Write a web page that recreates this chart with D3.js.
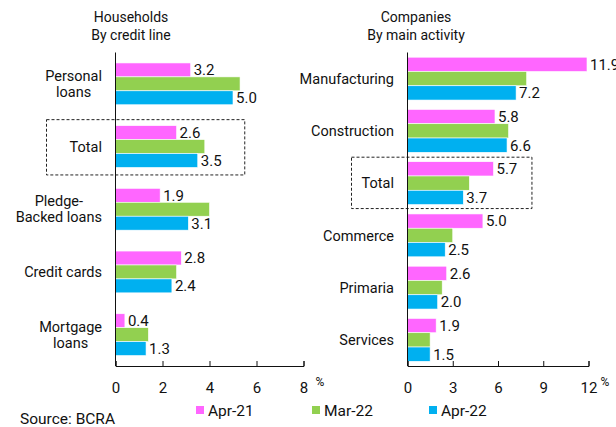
<!DOCTYPE html>
<html>
<head>
<meta charset="utf-8">
<script src="https://cdn.jsdelivr.net/npm/d3@7"></script>
<style>
  html, body { margin: 0; padding: 0; background: #fff; }
  svg { display: block; font-family: Roboto, "Noto Sans", sans-serif; }
</style>
</head>
<body>
<svg id="chart" width="616" height="427"></svg>
<script>
// ---- Data ----
const seriesNames = ["Apr-21", "Mar-22", "Apr-22"];
const seriesColors = ["#FF66FF", "#92D050", "#00B0F0"];

const hhCategories = ["Personal\nloans", "Total", "Pledge-\nBacked loans", "Credit cards", "Mortgage\nloans"];
const hhApr21 = [3.2, 2.6, 1.9, 2.8, 0.4];
const hhMar22 = [5.3, 3.8, 4.0, 2.6, 1.4];
const hhApr22 = [5.0, 3.5, 3.1, 2.4, 1.3];
const hhTicks = [0, 2, 4, 6, 8];

const coCategories = ["Manufacturing", "Construction", "Total", "Commerce", "Primaria", "Services"];
const coApr21 = [11.9, 5.8, 5.7, 5.0, 2.6, 1.9];
const coMar22 = [7.9, 6.7, 4.1, 3.0, 2.3, 1.5];
const coApr22 = [7.2, 6.6, 3.7, 2.5, 2.0, 1.5];
const coTicks = [0, 3, 6, 9, 12];

const labelledSeries = [0, 2]; // value labels shown for Apr-21 and Apr-22

const svg = d3.select("#chart");

function panel(opts) {
  const { categories, series, ticks, xRange, yRange, padIn, padOut, labelX, title, titleX, totalBox } = opts;
  const x = d3.scaleLinear().domain([ticks[0], ticks[ticks.length - 1]]).range(xRange);
  const y = d3.scaleBand().domain(categories).range(yRange).paddingInner(padIn).paddingOuter(padOut);
  const ys = d3.scaleBand().domain(d3.range(series.length)).range([0, y.bandwidth()]);

  const g = svg.append("g");

  // title
  const t = g.append("text").attr("x", titleX).attr("text-anchor", "middle")
    .attr("font-size", 14).attr("fill", "#111");
  t.append("tspan").attr("x", titleX).attr("y", 22).text(title[0]);
  t.append("tspan").attr("x", titleX).attr("y", 40).text(title[1]);

  // total dashed box
  const tb = categories.indexOf("Total");
  g.append("rect")
    .attr("x", totalBox.x0)
    .attr("y", y(categories[tb]) - totalBox.top)
    .attr("width", x(totalBox.xEnd) - totalBox.x0)
    .attr("height", y.bandwidth() + totalBox.top + totalBox.bottom)
    .attr("fill", "none").attr("stroke", "#222").attr("stroke-width", 1)
    .attr("stroke-dasharray", "3,2");

  // bars
  series.forEach((vals, si) => {
    g.selectAll(null).data(vals).enter().append("rect")
      .attr("x", x(0))
      .attr("y", (d, i) => y(categories[i]) + ys(si))
      .attr("width", d => x(d) - x(0))
      .attr("height", ys.bandwidth())
      .attr("fill", seriesColors[si])
      .attr("stroke", "#fff").attr("stroke-width", 0.6);
  });

  // value labels
  labelledSeries.forEach(si => {
    g.selectAll(null).data(series[si]).enter().append("text")
      .attr("x", d => x(d) + 3)
      .attr("y", (d, i) => y(categories[i]) + ys(si) + ys.bandwidth() / 2)
      .attr("dy", "0.36em")
      .attr("font-size", 15).attr("fill", "#111")
      .text(d => d.toFixed(1));
  });

  // category labels (multi-line, centred block, right-aligned)
  categories.forEach(c => {
    const lines = c.split("\n");
    const cy = y(c) + y.bandwidth() / 2;
    const lh = 16;
    const txt = g.append("text").attr("font-size", 14.5).attr("fill", "#111").attr("text-anchor", "middle");
    const spans = lines.map((ln, k) =>
      txt.append("tspan").attr("y", cy + (k - (lines.length - 1) / 2) * lh).attr("dy", "0.36em").text(ln));
    const w = d3.max(spans, s => s.node().getComputedTextLength());
    spans.forEach(s => s.attr("x", labelX - w / 2));
  });

  // x axis
  const axis = d3.axisBottom(x).tickValues(ticks).tickSizeInner(-5).tickSizeOuter(-5).tickPadding(16)
    .tickFormat(d3.format("d"));
  const ax = g.append("g").attr("transform", `translate(0,${yRange[1]})`).call(axis);
  ax.selectAll("text").attr("font-size", 15).attr("fill", "#111").attr("font-family", "Roboto, sans-serif");
  ax.selectAll("line, path").attr("stroke", "#111");
  g.append("text").attr("x", xRange[1] + 12).attr("y", yRange[1] + 20)
    .attr("font-size", 12).attr("fill", "#111").text("%");

  // y axis line
  g.append("line").attr("x1", x(0)).attr("x2", x(0)).attr("y1", yRange[0]).attr("y2", yRange[1])
    .attr("stroke", "#111").attr("stroke-width", 1);
}

panel({
  categories: hhCategories, series: [hhApr21, hhMar22, hhApr22], ticks: hhTicks,
  xRange: [115.5, 303.5], yRange: [52.5, 366], padIn: 1/3, padOut: 1/6, labelX: 102,
  title: ["Households", "By credit line"], titleX: 131,
  totalBox: { x0: 46.5, xEnd: 5.5, top: 6, bottom: 7.5 }
});

panel({
  categories: coCategories, series: [coApr21, coMar22, coApr22], ticks: coTicks,
  xRange: [407.5, 588.5], yRange: [52.5, 366], padIn: 0.18, padOut: 0.09, labelX: 394,
  title: ["Companies", "By main activity"], titleX: 416,
  totalBox: { x0: 351.5, xEnd: 8.25, top: 4.5, bottom: 4 }
});

// legend
const legendX = [196, 312, 429];
const lg = svg.append("g");
seriesNames.forEach((n, i) => {
  lg.append("rect").attr("x", legendX[i]).attr("y", 406).attr("width", 8).attr("height", 8).attr("fill", seriesColors[i]);
  lg.append("text").attr("x", legendX[i] + 12).attr("y", 415.5).attr("font-size", 15.5).attr("fill", "#111").text(n);
});

svg.append("text").attr("x", 20).attr("y", 424).attr("font-size", 15.5).attr("fill", "#111").text("Source: BCRA");
</script>
</body>
</html>
